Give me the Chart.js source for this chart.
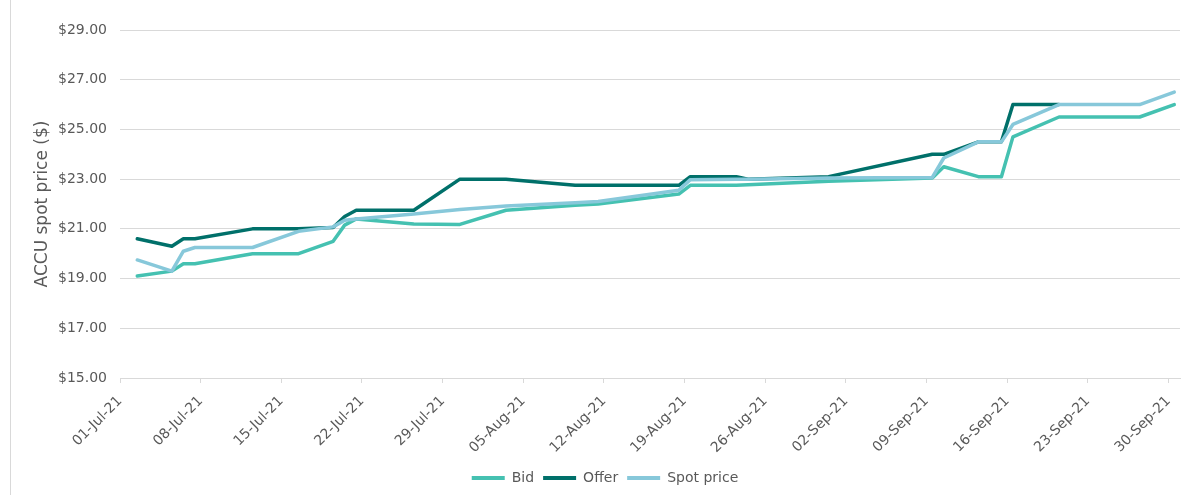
<!DOCTYPE html>
<html>
<head>
<meta charset="utf-8">
<script src="https://cdn.jsdelivr.net/npm/chart.js@4/dist/chart.umd.min.js"></script>
<style>
  html, body { margin: 0; padding: 0; background: #fff; }
  .wrap { position: relative; width: 1200px; height: 495px; }
  .frame { position: absolute; left: 10px; top: 0; width: 1px; height: 495px; background: #d9d9d9; }
</style>
</head>
<body>
<div class="wrap">
  <div class="frame"></div>
  <canvas id="accuChart" width="1200" height="495"></canvas>
</div>
<script>
// trading days with a change in the line (values in $)
const dates = [
  '2021-07-02', '2021-07-05', '2021-07-06', '2021-07-07', '2021-07-12', '2021-07-16',
  '2021-07-19', '2021-07-20', '2021-07-21', '2021-07-26', '2021-07-30', '2021-08-03',
  '2021-08-09', '2021-08-11', '2021-08-18', '2021-08-19', '2021-08-23', '2021-08-24',
  '2021-08-31', '2021-09-09', '2021-09-10', '2021-09-13', '2021-09-15', '2021-09-16',
  '2021-09-20', '2021-09-27', '2021-09-30'
];
const bid = [
  19.10, 19.30, 19.60, 19.60, 20.00, 20.00,
  20.50, 21.15, 21.40, 21.20, 21.18, 21.75,
  21.95, 22.00, 22.40, 22.75, 22.75, 22.77,
  22.92, 23.05, 23.50, 23.10, 23.10, 24.70,
  25.50, 25.50, 26.00
];
const offer = [
  20.60, 20.30, 20.60, 20.60, 21.00, 21.00,
  21.05, 21.50, 21.75, 21.75, 23.00, 23.00,
  22.75, 22.75, 22.75, 23.10, 23.10, 23.00,
  23.10, 24.00, 24.00, 24.50, 24.50, 26.00,
  26.00, null, null
];
const spot = [
  19.75, 19.30, 20.10, 20.25, 20.25, 20.90,
  21.08, 21.35, 21.40, 21.60, 21.78, 21.92,
  22.05, 22.10, 22.55, 22.98, 23.00, 23.00,
  23.05, 23.07, 23.85, 24.50, 24.50, 25.20,
  26.00, 26.00, 26.50
];
const xTickLabels = [
  '01-Jul-21', '08-Jul-21', '15-Jul-21', '22-Jul-21', '29-Jul-21', '05-Aug-21', '12-Aug-21',
  '19-Aug-21', '26-Aug-21', '02-Sep-21', '09-Sep-21', '16-Sep-21', '23-Sep-21', '30-Sep-21'
];
const yTicks = [15, 17, 19, 21, 23, 25, 27, 29];

const startDay = Date.parse('2021-07-01');
// each day sits in the middle of its own slot on the date axis
function dayPos(iso) {
  return (Date.parse(iso) - startDay) / 86400000 + 0.5;
}
function toPoints(values) {
  return dates.map((d, i) => ({ x: dayPos(d), y: values[i] }));
}

const textColor = '#595959';
const gridColor = '#d9d9d9';
Chart.defaults.font.family = "'DejaVu Sans', Verdana, sans-serif";
Chart.defaults.color = textColor;

function lineSet(label, values, color, order) {
  return {
    label: label,
    data: toPoints(values),
    borderColor: color,
    backgroundColor: color,
    borderWidth: 3.5,
    borderCapStyle: 'round',
    borderJoinStyle: 'round',
    pointRadius: 0,
    tension: 0,
    spanGaps: true,
    order: order
  };
}

const ctx = document.getElementById('accuChart').getContext('2d');
const accuChart = new Chart(ctx, {
  type: 'line',
  data: {
    datasets: [
      lineSet('Bid', bid, '#45c1b1', 2),
      lineSet('Offer', offer, '#00706a', 1),
      lineSet('Spot price', spot, '#87c8da', 0)
    ]
  },
  options: {
    responsive: false,
    animation: false,
    layout: { padding: { left: 30, right: 20, top: 30, bottom: 0 } },
    plugins: {
      tooltip: { enabled: false },
      legend: {
        position: 'bottom',
        labels: {
          boxWidth: 33,
          boxHeight: 4,
          padding: 9,
          font: { size: 14 },
          color: textColor,
          sort: (a, b) => a.datasetIndex - b.datasetIndex,
          generateLabels: (chart) => {
            const items = Chart.defaults.plugins.legend.labels.generateLabels(chart);
            items.forEach(it => { it.lineWidth = 0; });
            return items;
          }
        }
      }
    },
    scales: {
      x: {
        type: 'linear',
        min: 0,
        max: 92,
        afterBuildTicks: (axis) => {
          axis.ticks = xTickLabels.map((t, i) => ({ value: i * 7 }));
        },
        afterFit: (axis) => { axis.height = 84; },
        ticks: {
          autoSkip: false,
          maxRotation: 45,
          minRotation: 45,
          padding: 10,
          font: { size: 14 },
          color: textColor,
          callback: (value) => xTickLabels[Math.round(value / 7)]
        },
        grid: { drawOnChartArea: false, drawTicks: true, tickLength: 5, color: gridColor },
        border: { display: true, color: gridColor }
      },
      y: {
        min: 15,
        max: 29,
        afterBuildTicks: (axis) => {
          axis.ticks = yTicks.map(v => ({ value: v }));
        },
        afterFit: (axis) => { axis.width = 90; },
        ticks: {
          padding: 13,
          font: { size: 14 },
          color: textColor,
          callback: (value) => '$' + value.toFixed(2)
        },
        grid: { color: gridColor, drawTicks: false },
        border: { display: false },
        title: {
          display: true,
          text: 'ACCU spot price ($)',
          font: { size: 17 },
          color: textColor,
          padding: { top: 2, bottom: 0 }
        }
      }
    }
  }
});
</script>
</body>
</html>
